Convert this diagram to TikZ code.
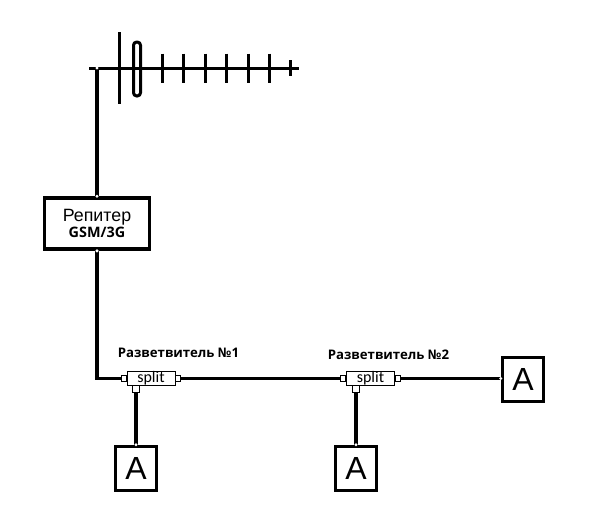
\documentclass[tikz,border=0pt]{standalone}
\usepackage{fontspec}
\setmainfont{Liberation Sans}
\newfontfamily\labelfont{Open Sans}
\newfontfamily\splitfont{Carlito}
\usetikzlibrary{positioning}
\tikzset{
  wire/.style={line width=3.6pt},
  rod/.style={line width=3pt},
  block/.style={draw, line width=3.6pt, inner sep=0pt},
  endbox/.style={block, minimum width=41pt, minimum height=44pt, font=\fontsize{32}{32}\selectfont},
  splitbox/.style={draw, line width=.8pt, fill=white, inner sep=0pt, minimum width=48pt, minimum height=13pt, font=\splitfont\fontsize{16}{16}\selectfont},
  port/.style={draw, line width=.8pt, fill=white, inner sep=0pt, minimum width=5pt, minimum height=6pt},
  lowport/.style={port, minimum width=6.5pt, minimum height=7pt},
  dot/.style={circle, fill=white, inner sep=0pt, minimum size=3.4pt},
  caption/.style={font=\labelfont\bfseries\fontsize{13.2}{15}\selectfont, inner sep=0pt}
}
\begin{document}
\begin{tikzpicture}[x=1pt,y=-1pt]
  \useasboundingbox (0,0) rectangle (608,522);
  % antenna
  \coordinate (boomstart) at (89,68);
  \coordinate (boomend) at (299,68);
  \node [dot] (feed) at (97,68) {};
  \draw [rod] (boomstart) -- (boomend);
  \draw [rod] (119,32) -- (119,104);
  \draw [rod, line join=round, rounded corners=3.2pt] (133.5,42) rectangle (140.5,96);
  \foreach \x in {162,183.5,205,226,248,269}
    \draw [rod] (\x,53.5) -- (\x,83);
  \draw [rod] (290.5,60) -- (290.5,76);
  % blocks
  \node [block, minimum width=105pt, minimum height=51pt, align=center] (rep) at (97,223.5)
    {\fontsize{17.8}{20}\selectfont Репитер\\[1pt]{\labelfont\bfseries\fontsize{14.4}{15}\selectfont GSM/3G}};
  \node [splitbox] (splita) at (151,378.5) {split};
  \node [port, left=0pt of splita] (splitain) {};
  \node [port, right=0pt of splita] (splitaout) {};
  \node [lowport] (splitadown) at (136,388.5) {};
  \node [splitbox] (splitb) at (370.5,378.5) {split};
  \node [port, left=0pt of splitb] (splitbin) {};
  \node [port, right=0pt of splitb] (splitbout) {};
  \node [lowport] (splitbdown) at (356,388.5) {};
  \node [endbox] (enda) at (136,468.5) {A};
  \node [endbox] (endb) at (356,468.5) {A};
  \node [endbox] (endc) at (523,379.5) {A};
  \node [caption] (capa) at (178.5,352.5) {Разветвитель №1};
  \node [caption] (capb) at (388.5,354.5) {Разветвитель №2};
  % wires
  \draw [wire] (feed) -- (rep.north);
  \draw [wire] (rep.south) |- (splitain.west);
  \draw [wire] (splitaout.east) -- (splitbin.west);
  \draw [wire] (splitbout.east) -- (splitbout.east -| endc.west);
  \draw [wire] (splitadown.south) -- (enda.north);
  \draw [wire] (splitbdown.south) -- (endb.north);
  % joints
  \node [dot] at (feed) {};
  \node [dot] (repin) at (rep.north) {};
  \node [dot] (repout) at (rep.south) {};
  \node [dot] (endain) at (enda.north) {};
  \node [dot] (endbin) at (endb.north) {};
  \node [dot] (endcin) at (splitbout.east -| endc.west) {};
\end{tikzpicture}
\end{document}
